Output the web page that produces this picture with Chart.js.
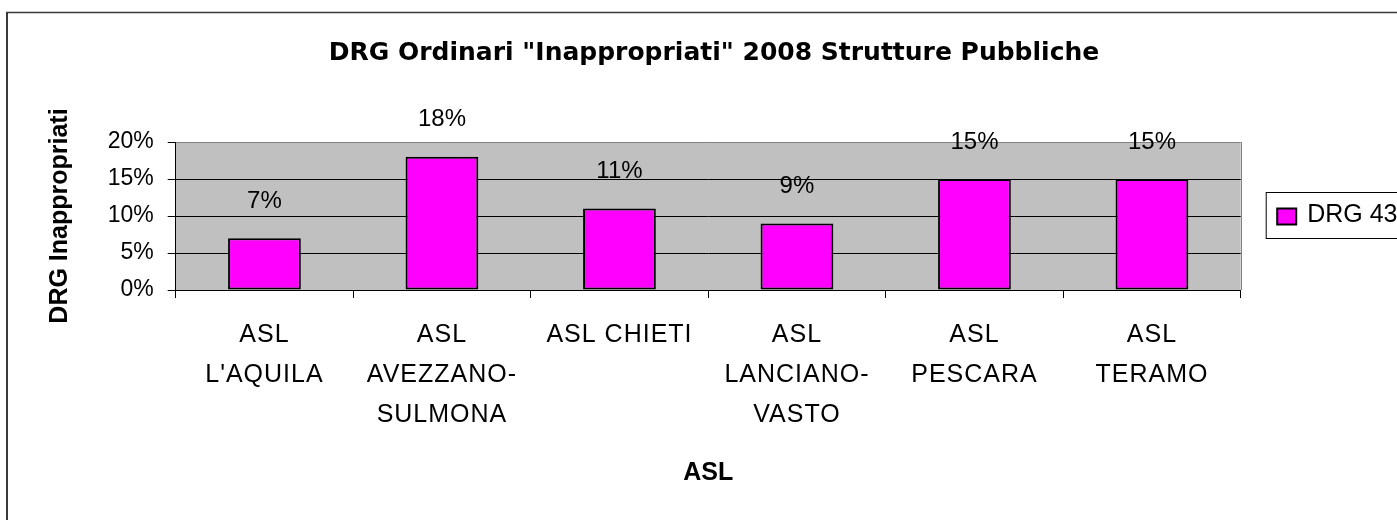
<!DOCTYPE html>
<html>
<head>
<meta charset="utf-8">
<script src="https://cdn.jsdelivr.net/npm/chart.js@4.4.0/dist/chart.umd.min.js"></script>
<style>
  html, body { margin: 0; padding: 0; background: #fff; overflow: hidden; }
  #wrap { position: relative; width: 1397px; height: 520px; }
</style>
</head>
<body>
<div id="wrap"><canvas id="chart"></canvas></div>
<script>
const chartTitle = 'DRG Ordinari "Inappropriati" 2008 Strutture Pubbliche';
const categories = [
  ['ASL', "L'AQUILA"],
  ['ASL', 'AVEZZANO-', 'SULMONA'],
  'ASL CHIETI',
  ['ASL', 'LANCIANO-', 'VASTO'],
  ['ASL', 'PESCARA'],
  ['ASL', 'TERAMO']
];
const seriesName = 'DRG 43';
const values = [7, 18, 11, 9, 15, 15];
const yTicks = [0, 5, 10, 15, 20];

const barColor = '#FF00FF';
const plotGray = '#C0C0C0';

// gray plot area, frame of the whole chart
const backdrop = {
  id: 'backdrop',
  beforeDraw(chart) {
    const {ctx, chartArea: a} = chart;
    ctx.save();
    ctx.fillStyle = plotGray;
    ctx.fillRect(a.left, a.top, a.right - a.left, a.bottom - a.top);
    ctx.strokeStyle = '#808080';
    ctx.lineWidth = 1;
    ctx.beginPath();
    ctx.moveTo(Math.round(a.right) + 0.5, a.top);
    ctx.lineTo(Math.round(a.right) + 0.5, a.bottom);
    ctx.stroke();
    ctx.strokeStyle = '#3a3a3a';
    ctx.lineWidth = 2;
    ctx.beginPath();
    ctx.moveTo(7, 2000);
    ctx.lineTo(7, 12.5);
    ctx.stroke();
    ctx.lineWidth = 1.3;
    ctx.beginPath();
    ctx.moveTo(6, 12.5);
    ctx.lineTo(2000, 12.5);
    ctx.stroke();
    ctx.restore();
  },
  // category labels are a bit spaced out in the original
  afterUpdate(chart) {
    const s = chart.scales.x;
    if (s.spaced) return;
    const orig = s.drawLabels.bind(s);
    s.drawLabels = (area) => {
      chart.ctx.save();
      chart.ctx.letterSpacing = '1px';
      orig(area);
      chart.ctx.restore();
    };
    s.spaced = true;
  }
};

// value labels above the bars
const barLabels = {
  id: 'barLabels',
  afterDatasetsDraw(chart) {
    const {ctx} = chart;
    const meta = chart.getDatasetMeta(0);
    ctx.save();
    ctx.font = '24px "Liberation Sans", Arial, sans-serif';
    ctx.fillStyle = '#000';
    ctx.textAlign = 'center';
    ctx.textBaseline = 'middle';
    meta.data.forEach((bar, i) => {
      ctx.fillText(chart.data.datasets[0].data[i] + '%', bar.x, bar.y - 37);
    });
    ctx.restore();
  }
};

// boxed legend to the right of the plot
const boxLegend = {
  id: 'boxLegend',
  afterDraw(chart) {
    const {ctx, chartArea: a} = chart;
    const ds = chart.data.datasets[0];
    const x = a.right + 25.5;
    const y = 192.5;
    ctx.save();
    ctx.strokeStyle = '#000';
    ctx.lineWidth = 1;
    ctx.strokeRect(x, y, 400, 46);
    ctx.fillStyle = ds.backgroundColor;
    ctx.fillRect(x + 11, y + 16, 19, 16);
    ctx.lineWidth = 2;
    ctx.strokeRect(x + 11, y + 16, 19, 16);
    ctx.fillStyle = '#000';
    ctx.font = '25px "Liberation Sans", Arial, sans-serif';
    ctx.textBaseline = 'middle';
    ctx.fillText(ds.label, x + 41, y + 23);
    ctx.restore();
  }
};

new Chart(document.getElementById('chart'), {
  type: 'bar',
  data: {
    labels: categories,
    datasets: [{
      label: seriesName,
      data: values,
      backgroundColor: barColor,
      borderColor: '#000',
      borderWidth: 2,
      borderSkipped: false,
      barPercentage: 0.41,
      categoryPercentage: 1
    }]
  },
  options: {
    responsive: true,
    maintainAspectRatio: false,
    animation: false,
    layout: { padding: { left: 31, right: 0, top: 0, bottom: 0 } },
    plugins: {
      legend: { display: false },
      tooltip: { enabled: false },
      title: {
        display: true,
        text: chartTitle,
        color: '#000',
        font: { family: '"DejaVu Sans", Verdana, sans-serif', size: 25, weight: 'bold', lineHeight: 1.2 },
        padding: { top: 38, bottom: 74 }
      }
    },
    scales: {
      x: {
        offset: true,
        grid: { display: true, drawOnChartArea: false, offset: true, color: '#000', tickLength: 8 },
        border: { color: '#000', width: 1 },
        ticks: {
          color: '#000',
          padding: 17,
          maxRotation: 0,
          autoSkip: false,
          font: { family: '"Liberation Sans", Arial, sans-serif', size: 25, lineHeight: 1.6 }
        },
        title: {
          display: true,
          text: 'ASL',
          color: '#000',
          font: { family: '"Liberation Sans", Arial, sans-serif', size: 25, weight: 'bold', lineHeight: 1.2 },
          padding: { top: 0, bottom: 32 }
        },
        afterFit(scale) { scale.height = 230; }
      },
      y: {
        min: yTicks[0],
        max: yTicks[yTicks.length - 1],
        afterBuildTicks(scale) { scale.ticks = yTicks.map(v => ({value: v})); },
        grid: {
          color: ctx => (ctx.tick && ctx.tick.value === 20 ? '#808080' : '#000'),
          tickColor: '#000',
          tickLength: 8,
          lineWidth: 1
        },
        border: { color: '#000', width: 1 },
        ticks: {
          color: '#000',
          padding: 14,
          callback: v => v + '%',
          font: { family: '"Liberation Sans", Arial, sans-serif', size: 23 }
        },
        title: {
          display: true,
          text: 'DRG Inappropriati',
          color: '#000',
          font: { family: '"Liberation Sans", Arial, sans-serif', size: 25, weight: 'bold', lineHeight: 1.2 },
          padding: { top: 14, bottom: 0 }
        },
        afterFit(scale) { scale.width = 144.7; }
      },
      gap: {
        type: 'linear',
        position: 'right',
        grid: { display: false },
        border: { display: false },
        ticks: { display: false },
        afterFit(scale) { scale.width = 156.3; }
      }
    }
  },
  plugins: [backdrop, barLabels, boxLegend]
});
</script>
</body>
</html>
